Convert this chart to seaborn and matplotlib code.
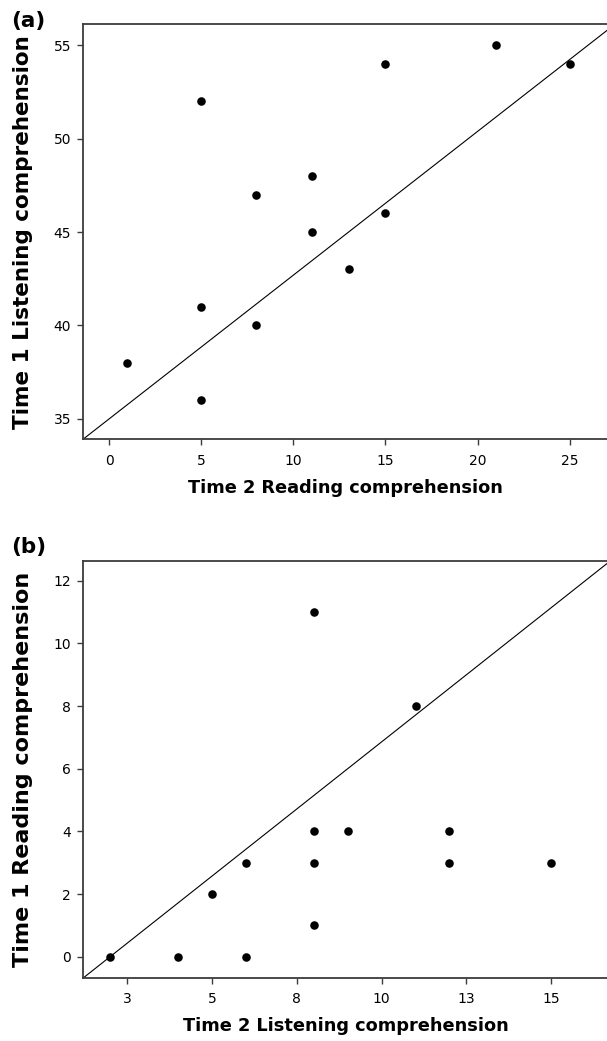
import matplotlib
matplotlib.use('Agg')
import matplotlib.pyplot as plt
import seaborn as sns
import pandas as pd

# Panel (a): Time 2 reading vs Time 1 listening
reading_t2 = [21, 25, 15, 5, 11, 8, 15, 11, 13, 5, 8, 1, 5]
listening_t1 = [55, 54, 54, 52, 48, 47, 46, 45, 43, 41, 40, 38, 36]
ref_line_a = [(0, 35), (26, 55)]

# Panel (b): Time 2 listening vs Time 1 reading
listening_t2 = [2, 4, 6, 5, 6, 8, 8, 8, 8, 9, 11, 12, 12, 15]
reading_t1 = [0, 0, 0, 2, 3, 11, 4, 3, 1, 4, 8, 4, 3, 3]
ref_line_b = [(2, 0), (16, 12)]

xticks_a = [0, 5, 10, 15, 20, 25]
yticks_a = [35, 40, 45, 50, 55]
xticks_b = [2.5, 5, 7.5, 10, 12.5, 15]
xtick_labels_b = ['3', '5', '8', '10', '13', '15']
yticks_b = [0, 2, 4, 6, 8, 10, 12]

sns.set_style('ticks')
plt.rcParams['font.family'] = ['DejaVu Sans']
plt.rcParams['text.color'] = 'black'
plt.rcParams['axes.labelcolor'] = 'black'

df_a = pd.DataFrame({'x': reading_t2, 'y': listening_t1})
df_b = pd.DataFrame({'x': listening_t2, 'y': reading_t1})

fig = plt.figure(figsize=(6.07, 10.41), dpi=100)
ax_a = fig.add_axes([0.1372, 0.578, 0.8650, 0.3987])
ax_b = fig.add_axes([0.1372, 0.0608, 0.8650, 0.4006])

frame_color = '#3c3c3c'


def style_axes(ax, xlabel, ylabel, ysize):
    for side in ['left', 'bottom', 'top', 'right']:
        ax.spines[side].set_color(frame_color)
        ax.spines[side].set_linewidth(1.3)
    ax.tick_params(axis='both', direction='out', length=4.3, width=1.0,
                   color=frame_color, labelsize=10, labelcolor='black')
    ax.tick_params(axis='y', pad=4.5)
    ax.tick_params(axis='x', pad=6)
    ax.set_xlabel(xlabel, fontsize=12.8, fontweight='bold', labelpad=8)
    ax.set_ylabel(ylabel, fontsize=ysize, fontweight='bold', labelpad=15)


# (a)
sns.scatterplot(data=df_a, x='x', y='y', ax=ax_a, color='black', s=38,
                edgecolor='black', linewidth=0, zorder=3)
ax_a.axline(ref_line_a[0], ref_line_a[1], color='black', linewidth=0.8)
ax_a.set_xlim(-1.4, 27.1)
ax_a.set_ylim(33.91, 56.12)
ax_a.set_xticks(xticks_a)
ax_a.set_yticks(yticks_a)
style_axes(ax_a, 'Time 2 Reading comprehension', 'Time 1 Listening comprehension', 15.5)

# (b)
sns.scatterplot(data=df_b, x='x', y='y', ax=ax_b, color='black', s=38,
                edgecolor='black', linewidth=0, zorder=3)
ax_b.axline(ref_line_b[0], ref_line_b[1], color='black', linewidth=0.8)
ax_b.set_xlim(1.21, 16.68)
ax_b.set_ylim(-0.67, 12.64)
ax_b.set_xticks(xticks_b)
ax_b.set_xticklabels(xtick_labels_b)
ax_b.set_yticks(yticks_b)
style_axes(ax_b, 'Time 2 Listening comprehension', 'Time 1 Reading comprehension', 16)

fig.text(0.018, 1 - 21 / 1041, '(a)', fontsize=15.5, fontweight='bold', va='center', ha='left')
fig.text(0.018, 1 - 547 / 1041, '(b)', fontsize=15.5, fontweight='bold', va='center', ha='left')

fig.savefig('out.png', dpi=100)
